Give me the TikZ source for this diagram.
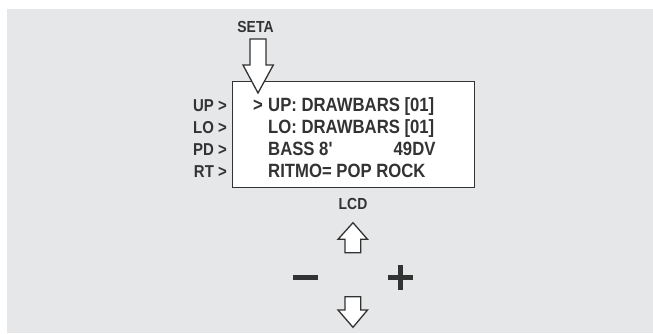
\documentclass[tikz,border=0pt]{standalone}
\usepackage{fontspec}
\newfontfamily\cond[FakeStretch=0.87]{Liberation Sans}
\definecolor{bg}{HTML}{E6E7E9}
\definecolor{ink}{HTML}{333333}
\begin{document}
\begin{tikzpicture}[x=1pt,y=-1pt,
  lbl/.style={inner sep=0pt, text=ink, anchor=base east, font=\cond\bfseries\fontsize{17.2}{17}\selectfont},
  lcdtxt/.style={inner sep=0pt, text=ink, anchor=base west, font=\cond\bfseries\fontsize{19.2}{19}\selectfont},
  captxt/.style={inner sep=0pt, text=ink, anchor=base, font=\cond\bfseries\fontsize{16}{16}\selectfont},
  hollow/.style={draw=ink, fill=white, line width=1.3pt, line join=miter},
  solidsign/.style={fill=ink, draw=none}]
\useasboundingbox (0,0) rectangle (653,333);
\fill[bg] (7,9) rectangle (653,333);
% LCD box
\node[draw=ink, line width=1.3pt, fill=white, minimum width=242pt, minimum height=106pt,
      anchor=north west, inner sep=0pt] (lcd) at (232,81) {};
% box text
\node[lcdtxt] (mark) at (253,111) {>};
\node[lcdtxt] (l1) at (268,111) {UP: DRAWBARS [01]};
\node[lcdtxt] (l2) at (268,133.3) {LO: DRAWBARS [01]};
\node[lcdtxt] (l3) at (268,155.6) {BASS 8'};
\node[lcdtxt] (l3b) at (393.5,155.6) {49DV};
\node[lcdtxt] (l4) at (268,177.8) {RITMO= POP ROCK};
% left labels
\node[lbl] (up) at (227,111) {UP >};
\node[lbl] (lo) at (227,133.3) {LO >};
\node[lbl] (pd) at (227,155.6) {PD >};
\node[lbl] (rt) at (227,177.8) {RT >};
% captions
\node[captxt] (seta) at (255.5,32.7) {SETA};
\node[captxt] (lcdlbl) at (353,209) {LCD};
% SETA arrow
\draw[hollow] (250,39) -- (266,39) -- (266,65) -- (273.3,65) -- (258,93) -- (243,65) -- (250,65) -- cycle;
% up arrow
\draw[hollow] (353,222.7) -- (367.5,239.3) -- (360.7,239.3) -- (360.7,252.7) -- (345,252.7) -- (345,239.3) -- (338,239.3) -- cycle;
% down arrow
\draw[hollow] (345,296.7) -- (360.7,296.7) -- (360.7,310) -- (367.5,310) -- (353,327.3) -- (338,310) -- (345,310) -- cycle;
% minus and plus
\fill[solidsign] (292.7,275.3) rectangle (318.3,280);
\fill[solidsign] (388.3,275.3) rectangle (413.3,280);
\fill[solidsign] (397.7,265) rectangle (403.3,290);
\end{tikzpicture}
\end{document}
